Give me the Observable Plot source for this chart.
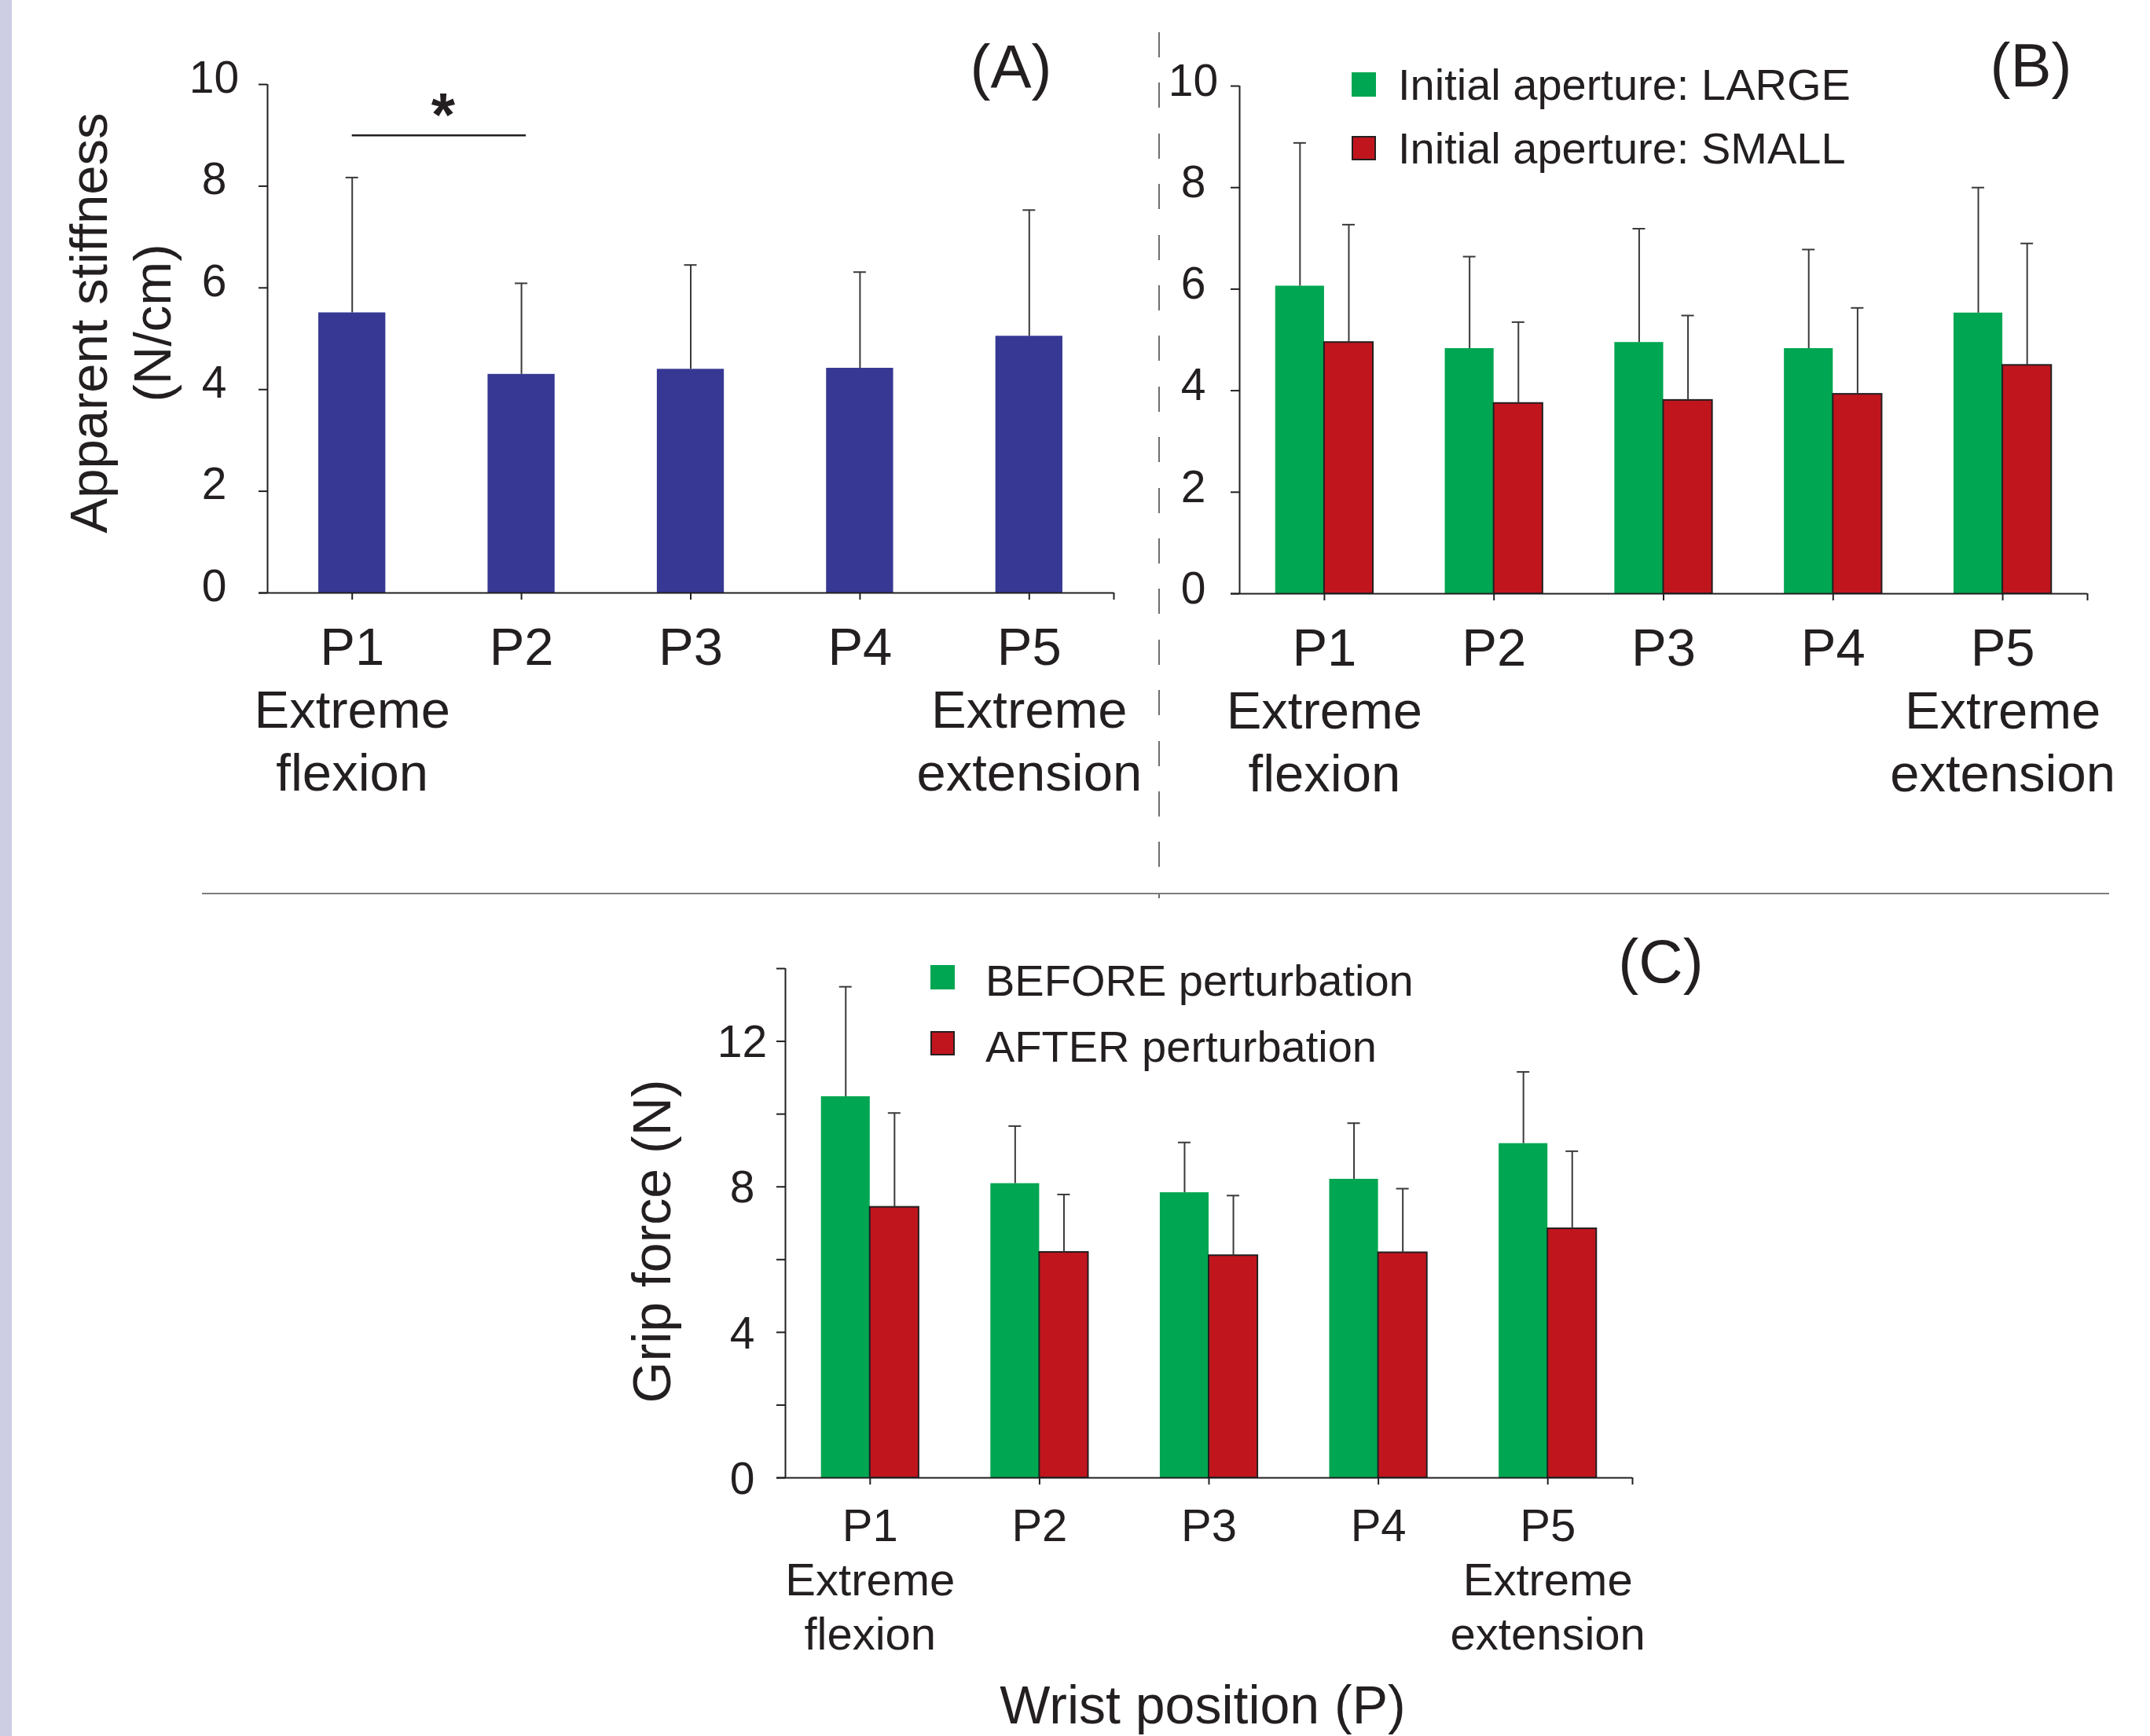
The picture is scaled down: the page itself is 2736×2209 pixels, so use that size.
<!DOCTYPE html>
<html>
<head>
<meta charset="utf-8">
<script src="https://cdn.jsdelivr.net/npm/d3@7"></script>
<script src="https://cdn.jsdelivr.net/npm/@observablehq/plot@0.6"></script>
<style>
  html, body { margin: 0; padding: 0; background: #ffffff; }
  #page { position: relative; width: 2736px; height: 2209px; background: #ffffff; overflow: hidden;
          font-family: "Liberation Sans", Arial, Helvetica, sans-serif; color: #231f20; }
  .abs { position: absolute; }
  #strip { left: 0; top: 0; width: 15px; height: 2209px; background: #cdcde4; }
  #vsep { left: 1474px; top: 41px; width: 2px; height: 1102px;
          background: repeating-linear-gradient(to bottom, #6d6e71 0px, #6d6e71 32px, transparent 32px, transparent 64.4px); }
  #hsep { left: 257px; top: 1136px; width: 2427px; height: 2px; background: #7d7d7d; }
  .sw { position: absolute; width: 31px; height: 31px; box-sizing: border-box; }
  .lt { position: absolute; font-size: 56px; line-height: 56px; white-space: nowrap; color: #231f20; }
  .plotbox svg { max-width: none !important; }
</style>
</head>
<body>
<div id="page">
  <div id="strip" class="abs"></div>
  <div id="vsep" class="abs"></div>
  <div id="hsep" class="abs"></div>
  <div id="panelA" class="abs plotbox" style="left:0px;top:0px;width:1470px;height:1130px;"></div>
  <div id="panelB" class="abs plotbox" style="left:1480px;top:0px;width:1256px;height:1130px;"></div>
  <div id="panelC" class="abs plotbox" style="left:700px;top:1150px;width:1700px;height:1059px;"></div>
  <div id="legendB"></div>
  <div id="legendC"></div>
</div>
<script>
// ---------------- data ----------------
const positions = ["P1", "P2", "P3", "P4", "P5"];
const positionLabels = ["P1\nExtreme\nflexion", "P2", "P3", "P4", "P5\nExtreme\nextension"];

// (A) apparent stiffness (N/cm)
const stiffnessMean = [5.51, 4.30, 4.40, 4.42, 5.05];
const stiffnessSD   = [2.66, 1.79, 2.05, 1.89, 2.48];

// (B) apparent stiffness by initial aperture (N/cm)
const apertureGroups = ["Initial aperture: LARGE", "Initial aperture: SMALL"];
const largeMean = [6.06, 4.83, 4.95, 4.83, 5.53];
const largeSD   = [2.82, 1.81, 2.24, 1.95, 2.47];
const smallMean = [4.95, 3.75, 3.81, 3.93, 4.50];
const smallSD   = [2.32, 1.60, 1.67, 1.70, 2.40];

// (C) grip force (N)
const phaseGroups = ["BEFORE perturbation", "AFTER perturbation"];
const beforeMean = [10.48, 8.09, 7.84, 8.21, 9.19];
const beforeSD   = [3.02, 1.58, 1.38, 1.54, 1.97];
const afterMean  = [7.44, 6.20, 6.11, 6.19, 6.85];
const afterSD    = [2.59, 1.59, 1.65, 1.76, 2.13];

// axis ticks
const yTicksAB = [0, 2, 4, 6, 8, 10];
const yTicksC = [0, 2, 4, 6, 8, 10, 12, 14];
const yLabelsC = [0, 4, 8, 12];

// significance annotation in (A)
const sigPairs = [{from: "P1", to: "P2", level: 9.0, mark: "*"}];

// texts
const titleA = "Apparent stiffness\n(N/cm)";
const titleC = "Grip force (N)";
const xTitleC = "Wrist position (P)";
const panelLabels = ["(A)", "(B)", "(C)"];

// ---------------- style ----------------
const ink = "#231f20";
const errInk = "#3a3a3a";
const navy = "#363893";
const green = "#00a651";
const red = "#c1151e";
const font = "'Liberation Sans', Arial, Helvetica, sans-serif";

const xDomain = [0.5, positions.length + 0.5];
const kOf = p => positions.indexOf(p) + 1;
const xTicks = [...positions.map((p, i) => i + 1), xDomain[1]];

// ---------------- tables ----------------
const rowsA = positions.map((p, i) => ({k: i + 1, mean: stiffnessMean[i], sd: stiffnessSD[i]}));
const grouped = (m1, s1, m2, s2) => positions.flatMap((p, i) => [
  {k: i + 1, s: -1, mean: m1[i], sd: s1[i]},
  {k: i + 1, s: +1, mean: m2[i], sd: s2[i]}
]);
const rowsB = grouped(largeMean, largeSD, smallMean, smallSD);
const rowsC = grouped(beforeMean, beforeSD, afterMean, afterSD);

const BW = 0.288;  // grouped bar width in category units
const AW = 0.198;  // half width of single bar

function groupedMarks(rows) {
  const cx = d => d.k + d.s * BW / 2;
  return [
    Plot.rect(rows.filter(d => d.s < 0), {x1: d => d.k - BW, x2: d => d.k, y1: () => 0, y2: "mean", fill: green}),
    Plot.rect(rows.filter(d => d.s > 0), {x1: d => d.k, x2: d => d.k + BW, y1: () => 0, y2: "mean", fill: red, stroke: ink, strokeWidth: 2}),
    Plot.ruleX(rows, {x: cx, y1: "mean", y2: d => d.mean + d.sd, stroke: errInk, strokeWidth: 2}),
    Plot.ruleY(rows, {y: d => d.mean + d.sd, x1: cx, x2: cx, insetLeft: -8, insetRight: -8, stroke: errInk, strokeWidth: 2})
  ];
}

function axisMarks(yTicks, yLabels, labelDx, labelDy, xLabelSize, xLabelLH, xLabelDy) {
  return [
    Plot.ruleX([xDomain[0]], {stroke: ink, strokeWidth: 2}),
    Plot.ruleY([0], {stroke: ink, strokeWidth: 2, insetLeft: -11}),
    Plot.axisY({ticks: yTicks, tickSize: 11, tickFormat: () => "", strokeWidth: 2, label: null}),
    Plot.axisX({ticks: xTicks, tickSize: 9, tickFormat: () => "", strokeWidth: 2, label: null}),
    Plot.text(yLabels, {y: d => d, text: d => String(d), frameAnchor: "left", dx: labelDx, dy: labelDy,
      textAnchor: "middle", fontSize: 57, fill: ink}),
    Plot.text(positionLabels, {x: (d, i) => i + 1, frameAnchor: "bottom", lineAnchor: "top",
      lineHeight: xLabelLH, dy: xLabelDy, fontSize: xLabelSize, textAnchor: "middle", fill: ink})
  ];
}

const baseStyle = {fontFamily: font, color: ink, background: "transparent", overflow: "visible"};

// ---------------- Panel A ----------------
const plotA = Plot.plot({
  width: 1470, height: 1130,
  marginLeft: 340, marginRight: 53, marginTop: 107, marginBottom: 376,
  x: {type: "linear", domain: xDomain, axis: null},
  y: {domain: [0, 10], axis: null},
  style: baseStyle,
  marks: [
    Plot.rect(rowsA, {x1: d => d.k - AW, x2: d => d.k + AW, y1: () => 0, y2: "mean", fill: navy}),
    Plot.ruleX(rowsA, {x: "k", y1: "mean", y2: d => d.mean + d.sd, stroke: errInk, strokeWidth: 2}),
    Plot.ruleY(rowsA, {y: d => d.mean + d.sd, x1: "k", x2: "k", insetLeft: -8, insetRight: -8, stroke: errInk, strokeWidth: 2}),
    ...axisMarks(yTicksAB, yTicksAB, -68, -8, 67, 1.2, 34),
    Plot.ruleY(sigPairs, {y: "level", x1: d => kOf(d.from), x2: d => kOf(d.to), insetRight: -6, stroke: ink, strokeWidth: 2.5}),
    Plot.text(sigPairs, {x: d => (kOf(d.from) + kOf(d.to)) / 2, y: "level", text: "mark", lineAnchor: "bottom",
      dx: 8, dy: 1, fontSize: 78, fontWeight: "bold", fill: ink}),
    Plot.text([titleA], {frameAnchor: "left", rotate: -90, textAnchor: "middle", lineAnchor: "bottom",
      lineHeight: 1.2, fontSize: 67, dx: -124, dy: -20, fill: ink}),
    Plot.text([panelLabels[0]], {frameAnchor: "top-right", textAnchor: "middle", lineAnchor: "bottom",
      dx: -131, dy: 4, fontSize: 78, fill: ink})
  ]
});
document.getElementById("panelA").appendChild(plotA);

// ---------------- Panel B ----------------
const plotB = Plot.plot({
  width: 1256, height: 1130,
  marginLeft: 97, marginRight: 80, marginTop: 109, marginBottom: 375,
  x: {type: "linear", domain: xDomain, axis: null},
  y: {domain: [0, 10], axis: null},
  style: baseStyle,
  marks: [
    ...groupedMarks(rowsB),
    ...axisMarks(yTicksAB, yTicksAB, -59, -6, 67, 1.2, 34),
    Plot.text([panelLabels[1]], {frameAnchor: "top-right", textAnchor: "middle", lineAnchor: "bottom",
      dx: -72, dy: 0, fontSize: 78, fill: ink})
  ]
});
document.getElementById("panelB").appendChild(plotB);

// ---------------- Panel C ----------------
const plotC = Plot.plot({
  width: 1700, height: 1059,
  marginLeft: 299, marginRight: 323, marginTop: 82, marginBottom: 329,
  x: {type: "linear", domain: xDomain, axis: null},
  y: {domain: [0, 14], axis: null},
  style: baseStyle,
  marks: [
    ...groupedMarks(rowsC),
    ...axisMarks(yTicksC, yLabelsC, -55, 2, 58, 1.19, 31),
    Plot.text([titleC], {frameAnchor: "left", rotate: -90, textAnchor: "middle", lineAnchor: "bottom",
      fontSize: 68, dx: -147, dy: 23, fill: ink}),
    Plot.text([xTitleC], {frameAnchor: "bottom", textAnchor: "middle", lineAnchor: "bottom",
      fontSize: 68, dx: -8, dy: 312, fill: ink}),
    Plot.text([panelLabels[2]], {frameAnchor: "top-right", textAnchor: "middle", lineAnchor: "bottom",
      dx: 36, dy: 17, fontSize: 78, fill: ink})
  ]
});
document.getElementById("panelC").appendChild(plotC);

// ---------------- Legends (HTML) ----------------
function legend(el, labels, swLeft, textLeft, firstSwTop, firstTextTop, rowGap) {
  const colors = [green, red];
  labels.forEach((lab, i) => {
    const sw = document.createElement("div");
    sw.className = "sw";
    sw.style.left = swLeft + "px";
    sw.style.top = (firstSwTop + i * rowGap) + "px";
    sw.style.background = colors[i];
    if (i === 1) sw.style.border = "2px solid " + ink;
    el.appendChild(sw);
    const t = document.createElement("div");
    t.className = "lt";
    t.style.left = textLeft + "px";
    t.style.top = (firstTextTop + i * rowGap) + "px";
    t.textContent = lab;
    el.appendChild(t);
  });
}
legend(document.getElementById("legendB"), apertureGroups, 1720, 1779, 92, 80, 81);
legend(document.getElementById("legendC"), phaseGroups, 1184, 1254, 1228, 1220, 84);
</script>
</body>
</html>
